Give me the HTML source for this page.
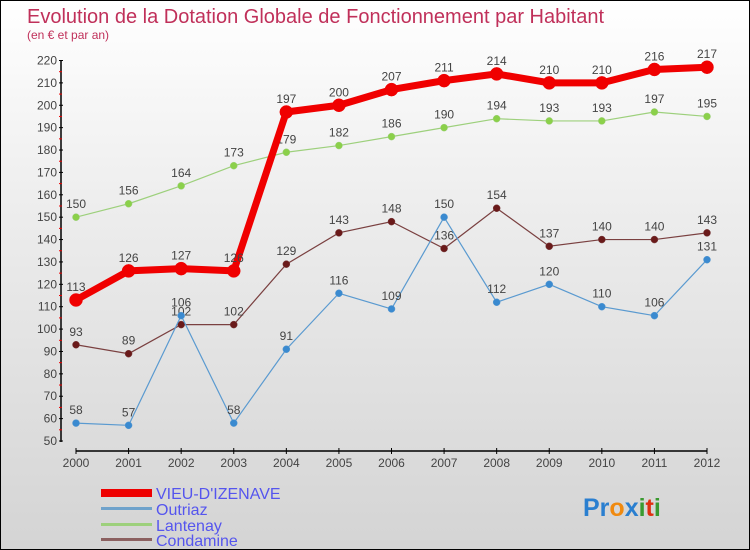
<!DOCTYPE html>
<html><head><meta charset="utf-8"><style>
body{margin:0;}
#wrap{width:748px;height:548px;border:1px solid #000;background:linear-gradient(#fff 0%,#ececec 40%,#d4d4d4 100%);position:relative;font-family:"Liberation Sans",sans-serif;overflow:hidden}
</style></head><body>
<div id="wrap">
<svg id="chart" width="748" height="548" xmlns="http://www.w3.org/2000/svg" font-family="Liberation Sans, sans-serif">
<text x="26" y="22" font-size="20" fill="#c0305a">Evolution de la Dotation Globale de Fonctionnement par Habitant</text>
<text x="26" y="38" font-size="12" fill="#c0305a">(en € et par an)</text>
<g id="axes"></g><g id="series"></g>
<g>
<rect x="100" y="488" width="51" height="8" fill="#e00"/>
<rect x="100" y="506" width="51" height="3" fill="#6fa2cb"/>
<rect x="100" y="522" width="51" height="3" fill="#9dd07c"/>
<rect x="100" y="537" width="51" height="3" fill="#8b6060"/>
<text x="155" y="498" font-size="16" fill="#5555ee">VIEU-D'IZENAVE</text>
<text x="155" y="514" font-size="16" fill="#5555ee">Outriaz</text>
<text x="155" y="530" font-size="16" fill="#5555ee">Lantenay</text>
<text x="155" y="545" font-size="16" fill="#5555ee">Condamine</text>
</g>
<g font-size="25" font-weight="bold">
<text x="582" y="515"><tspan fill="#2a7fd0">Pr</tspan><tspan fill="#f08a10">o</tspan><tspan fill="#2a7fd0">x</tspan><tspan fill="#3a9a30">i</tspan><tspan fill="#e03010">t</tspan><tspan fill="#3a9a30">i</tspan></text>
</g>
</svg></div>
<script>
const years=[2000,2001,2002,2003,2004,2005,2006,2007,2008,2009,2010,2011,2012];
const yTicks=[50,60,70,80,90,100,110,120,130,140,150,160,170,180,190,200,210,220];
const vieu=[113,126,127,126,197,200,207,211,214,210,210,216,217];
const outriaz=[58,57,106,58,91,116,109,150,112,120,110,106,131];
const lantenay=[150,156,164,173,179,182,186,190,194,193,193,197,195];
const condamine=[93,89,102,102,129,143,148,136,154,137,140,140,143];
const NS="http://www.w3.org/2000/svg";
const xS=i=>75+i*(706-75)/12;
const yS=v=>440-(v-50)*(440-59.5)/170;
function mk(t,a,p){const e=document.createElementNS(NS,t);for(const k in a)e.setAttribute(k,a[k]);p.appendChild(e);return e;}
const ax=document.getElementById('axes');
let e=mk('line',{x1:60,y1:59,x2:60,y2:441,stroke:'#000','stroke-width':1.5},ax);


e=mk('line',{x1:75,y1:450,x2:706,y2:450,stroke:'#000','stroke-width':1.5},ax);


yTicks.forEach((v,i)=>{const y=yS(v);
 mk('line',{x1:58,y1:y,x2:62,y2:y,stroke:'#000'},ax);
 if(i<yTicks.length-1)mk('line',{x1:58,y1:y-(yS(50)-yS(55)),x2:61,y2:y-(yS(50)-yS(55)),stroke:'#e00'},ax);
 const t=mk('text',{x:56,y:y+4,'font-size':12,fill:'#444','text-anchor':'end'},ax);t.textContent=v;
 
 });
years.forEach((yr,i)=>{const x=xS(i);
 mk('line',{x1:x,y1:447,x2:x,y2:453,stroke:'#000'},ax);
 const t=mk('text',{x:x,y:466,'font-size':12,fill:'#444','text-anchor':'middle'},ax);t.textContent=yr;
 
 });
const sg=document.getElementById('series');
function draw(name,vals,col,dot,w,r,fs){
 const g=mk('g',{},sg);
 
 
 const pts=vals.map((v,i)=>xS(i)+','+yS(v)).join(' ');
 mk('polyline',{points:pts,fill:'none',stroke:col,'stroke-width':w},g);
 vals.forEach((v,i)=>{const c=mk('circle',{cx:xS(i),cy:yS(v),r:r,fill:dot,stroke:col,'stroke-width':0.5},g);
  
  
  const t=mk('text',{x:xS(i),y:yS(v)-9,'font-size':fs,fill:'#444','text-anchor':'middle'},g);t.textContent=v;
  
  });
}
draw('condamine',condamine,'#7a4040','#6a1a1a',1.2,3.5,12);
draw('lantenay',lantenay,'#9dd07c','#8bd04a',1.2,3.5,12);
draw('outriaz',outriaz,'#5a9ad0','#3a8ad0',1.2,3.5,12);
draw('vieu',vieu,'#f00000','#f00000',7,6.5,12);
</script>
</body></html>
